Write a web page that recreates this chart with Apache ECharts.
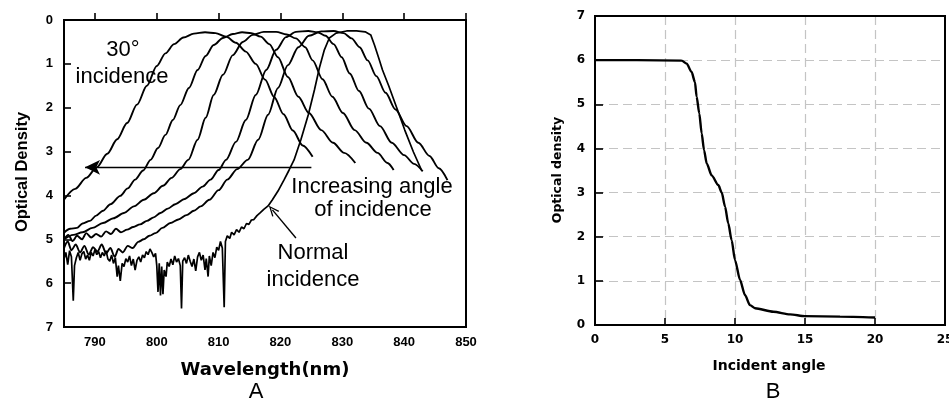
<!DOCTYPE html>
<html>
<head>
<meta charset="utf-8">
<script src="https://cdn.jsdelivr.net/npm/echarts@6/dist/echarts.min.js"></script>
<style>
  html, body { margin: 0; padding: 0; background: #ffffff; }
  #chart { width: 949px; height: 401px; }
</style>
</head>
<body>
<div id="chart"></div>
<script>
// ---- Panel A: optical density spectra, one curve per angle of incidence ----
const wavelengthTicks = [790, 800, 810, 820, 830, 840, 850];

// [wavelength (nm), optical density]
const spectrum30deg = [
  [785.0,4.10],[786.8,3.85],[788.6,3.60],[790.3,3.36],[792.0,3.05],[793.6,2.72],[795.2,2.35],
  [796.8,1.93],[798.4,1.50],[800.0,1.05],[801.4,0.76],[802.8,0.55],[804.3,0.40],[806.0,0.31],
  [807.8,0.28],[809.5,0.30],[811.2,0.38],[812.8,0.52],[814.4,0.72],[816.0,1.00],[817.5,1.36],
  [819.0,1.76],[820.5,2.15],[822.0,2.52],[823.6,2.86],[825.2,3.12]
];
const spectrumB = [
  [785.0,4.85],[786.0,4.76],[787.1,4.74],[788.0,4.64],[789.2,4.58],[790.2,4.46],[791.3,4.35],
  [792.5,4.20],[794.1,4.01],[795.3,3.84],[796.5,3.64],[797.8,3.43],[799.0,3.19],[800.2,2.92],
  [801.4,2.62],[802.6,2.28],[803.8,1.94],[805.2,1.55],[806.6,1.14],[807.9,0.82],[809.2,0.57],
  [810.7,0.41],[812.3,0.32],[813.8,0.28],[815.3,0.30],[816.8,0.38],[818.2,0.55],[819.6,0.85],
  [821.2,1.30],[822.9,1.75],[824.6,2.12],[826.6,2.51],[828.5,2.80],[830.3,3.03],[832.1,3.26]
];
const spectrumC = [
  [785.0,5.00],[786.5,4.90],[788.0,4.84],[789.6,4.74],[791.3,4.63],[793.0,4.52],[794.7,4.40],
  [796.3,4.25],[797.9,4.10],[799.5,3.95],[801.0,3.78],[802.4,3.60],[803.8,3.40],[805.1,3.19],
  [806.6,2.73],[807.9,2.23],[809.2,1.71],[810.7,1.25],[812.3,0.80],[813.9,0.50],[815.5,0.34],
  [817.3,0.27],[819.3,0.27],[821.0,0.33],[822.5,0.42],[824.0,0.62],[825.2,0.92],[826.8,1.35],
  [828.4,1.75],[830.1,2.12],[832.0,2.51],[833.9,2.80],[835.7,3.03],[837.3,3.26],[838.3,3.42]
];
const spectrumD = [
  [785.0,5.00],[785.7,4.90],[786.4,5.04],[787.1,4.92],[787.9,5.00],[788.6,4.86],[789.4,4.96],
  [790.2,4.88],[791.0,4.94],[791.8,4.82],[792.6,4.88],[793.4,4.76],[794.2,4.84],[795.2,4.78],
  [796.2,4.72],[797.3,4.66],[798.4,4.58],[799.5,4.50],[800.6,4.40],[801.8,4.30],[803.0,4.20],
  [804.5,4.08],[806.0,3.95],[807.4,3.80],[808.7,3.64],[810.0,3.42],[811.2,3.19],[812.8,2.78],
  [814.4,2.28],[816.0,1.71],[817.7,1.14],[819.3,0.68],[820.9,0.39],[822.5,0.27],[824.5,0.25],
  [826.0,0.28],[827.3,0.36],[828.6,0.55],[829.9,0.85],[831.2,1.22],[832.7,1.62],[834.3,2.02],
  [836.1,2.42],[838.0,2.80],[840.0,3.08],[841.6,3.28],[843.0,3.45]
];
const spectrumE = [
  [785.0,5.20],[785.6,5.05],[786.2,5.25],[786.9,5.12],[787.6,5.30],[788.3,5.15],[789.0,5.35],
  [789.7,5.18],[790.4,5.28],[791.1,5.12],[791.8,5.32],[792.5,5.20],[793.2,5.40],[793.8,5.22],
  [794.5,5.30],[795.3,5.15],[796.1,5.20],[797.0,5.06],[797.9,5.00],[798.8,4.92],[799.8,4.86],
  [800.9,4.74],[802.2,4.63],[803.5,4.55],[804.8,4.45],[806.0,4.35],[807.1,4.25],[808.5,4.10],
  [810.0,3.88],[811.4,3.64],[813.0,3.40],[814.7,3.19],[816.4,2.73],[818.0,2.16],[819.6,1.55],
  [821.2,1.03],[822.9,0.62],[824.6,0.36],[826.6,0.26],[828.6,0.25],[830.2,0.30],[831.5,0.42],
  [832.8,0.62],[834.1,0.92],[835.5,1.28],[837.0,1.66],[838.6,2.04],[840.4,2.42],[842.3,2.80],
  [844.1,3.10],[845.6,3.38],[847.0,3.65]
];
const spectrumNormal = [
  [785.0,5.45],[785.3,5.30],[785.6,5.58],[785.9,5.26],[786.2,5.40],[786.5,6.40],[786.7,5.60],
  [787.0,5.42],[787.3,5.30],[787.6,5.48],[787.9,5.33],[788.2,5.28],[788.5,5.45],[788.8,5.36],
  [789.1,5.48],[789.4,5.30],[789.7,5.38],[790.0,5.24],[790.3,5.35],[790.6,5.28],[790.9,5.42],
  [791.2,5.30],[791.5,5.38],[791.8,5.26],[792.1,5.45],[792.4,5.50],[792.7,5.36],[793.0,5.55],
  [793.3,5.42],[793.6,5.85],[793.8,5.60],[794.1,5.95],[794.4,5.55],[794.7,5.62],[795.0,5.44],
  [795.3,5.52],[795.6,5.38],[795.9,5.60],[796.2,5.45],[796.5,5.70],[796.8,5.48],[797.1,5.40],
  [797.4,5.52],[797.7,5.36],[798.0,5.42],[798.3,5.28],[798.6,5.35],[798.9,5.22],[799.2,5.30],
  [799.5,5.40],[799.8,5.32],[800.0,5.60],[800.2,6.20],[800.4,5.55],[800.6,6.28],[800.8,5.62],
  [801.0,6.25],[801.2,5.70],[801.5,5.85],[801.7,5.52],[802.0,5.62],[802.3,5.45],[802.6,5.58],
  [802.9,5.38],[803.2,5.52],[803.5,5.44],[803.8,5.60],[804.0,6.58],[804.2,5.50],[804.5,5.42],
  [804.8,5.55],[805.1,5.36],[805.4,5.50],[805.7,5.62],[806.0,5.45],[806.3,5.72],[806.6,5.40],
  [806.9,5.30],[807.2,5.48],[807.5,5.36],[807.8,5.70],[808.0,5.44],[808.3,5.85],[808.5,5.38],
  [808.8,5.60],[809.1,5.30],[809.4,5.42],[809.7,5.18],[810.0,5.25],[810.3,5.05],[810.6,5.20],
  [810.9,6.55],[811.1,5.05],[811.4,4.92],[811.8,4.98],[812.1,4.84],[812.5,4.90],[812.9,4.78],
  [813.3,4.84],[813.7,4.72],[814.1,4.76],[814.5,4.64],[814.9,4.66],[815.3,4.56],[815.7,4.55],
  [816.2,4.46],[816.7,4.40],[817.3,4.32],[818.0,4.24],[818.7,4.10],[819.6,3.90],[820.6,3.64],
  [821.4,3.42],[822.2,3.19],[823.3,2.73],[824.5,2.16],[825.5,1.59],[826.3,1.09],[827.1,0.68],
  [827.9,0.41],[829.0,0.30],[830.7,0.25],[832.3,0.25],[833.7,0.27],[834.6,0.34],[835.2,0.57],
  [835.9,0.87],[836.5,1.14],[837.5,1.50],[838.8,2.00],[840.1,2.51],[841.5,3.01],[842.8,3.42]
];

// Annotation arrows, in data units [wavelength, optical density]
const angleShiftArrow = [[825.0, 3.36], [788.4, 3.36]];
const normalPointer = [[822.5, 4.97], [818.7, 4.33]];

// ---- Panel B: optical density against incident angle ----
const angleTicks = [0, 5, 10, 15, 20, 25];
const incidentAngle = [0, 3, 6.19, 6.55, 6.9, 7.14, 7.26, 7.45, 7.62, 7.79, 7.98, 8.33, 8.81, 9.05,
  9.29, 9.52, 9.76, 10.0, 10.36, 10.71, 11.07, 11.43, 12.74, 13.93, 15.0, 17.5, 20.0];
const angleDensity = [6.0, 6.0, 5.99, 5.92, 5.73, 5.50, 5.17, 4.79, 4.34, 3.96, 3.66, 3.39, 3.17, 3.0,
  2.68, 2.30, 1.92, 1.47, 1.02, 0.68, 0.45, 0.38, 0.30, 0.24, 0.20, 0.19, 0.17];

const SANS = "'Liberation Sans', Arial, sans-serif";
const WIDE = "'DejaVu Sans', sans-serif";

const spectra = [spectrum30deg, spectrumB, spectrumC, spectrumD, spectrumE];

const lineSeries = spectra.map(function (pts) {
  return {
    type: 'line', xAxisIndex: 0, yAxisIndex: 0, data: pts,
    showSymbol: false, smooth: 0.3, smoothMonotone: 'x',
    lineStyle: { color: '#000', width: 1.9 }, silent: true
  };
});
lineSeries.push({
  type: 'line', xAxisIndex: 0, yAxisIndex: 0, data: spectrumNormal,
  showSymbol: false, smooth: false,
  lineStyle: { color: '#000', width: 1.7 }, silent: true,
  markLine: {
    silent: true, animation: false,
    label: { show: false },
    data: [
      [{ coord: angleShiftArrow[0], symbol: 'none' },
       { coord: angleShiftArrow[1], symbol: 'arrow', symbolSize: [11, 15] }],
      [{ coord: normalPointer[0], symbol: 'none' },
       { coord: normalPointer[1], symbol: 'path://M0,12 L5,0 L10,12 L8.6,12.6 L5,3.6 L1.4,12.6 Z', symbolSize: [9, 11] }]
    ],
    lineStyle: { color: '#000', width: 1.4, type: 'solid' }
  }
});
lineSeries.push({
  type: 'line', xAxisIndex: 1, yAxisIndex: 1,
  data: incidentAngle.map(function (a, i) { return [a, angleDensity[i]]; }),
  showSymbol: false, smooth: 0.25, smoothMonotone: 'x',
  lineStyle: { color: '#000', width: 2.4 }, silent: true
});

const tickLabelA = { color: '#000', fontFamily: SANS, fontWeight: 'bold', fontSize: 13 };
const tickLabelB = { color: '#000', fontFamily: WIDE, fontWeight: 'bold', fontSize: 12 };
const dashedGrid = { show: true, showMinLine: false, showMaxLine: false,
                     lineStyle: { color: '#c4c4c4', width: 1.2, type: [9, 5] } };

function annot(text, x, y, size, family, weight, rot) {
  return {
    type: 'text', x: x, y: y, rotation: rot || 0, silent: true,
    style: { text: text, fill: '#000', fontSize: size, fontFamily: family,
             fontWeight: weight || 'normal', align: 'center', verticalAlign: 'middle' }
  };
}

const option = {
  animation: false,
  backgroundColor: '#fff',
  grid: [
    { left: 64, top: 20, width: 402, height: 307, show: true, borderColor: '#000', borderWidth: 2,
      outerBoundsMode: 'none' },
    { left: 595, top: 16, width: 350, height: 309, show: true, borderColor: '#000', borderWidth: 2,
      outerBoundsMode: 'none' }
  ],
  xAxis: [
    { type: 'value', gridIndex: 0, min: 785, max: 850,
      axisLine: { show: true, lineStyle: { color: '#000', width: 2 } },
      axisTick: { show: true, inside: true, length: 7, customValues: wavelengthTicks,
                  lineStyle: { color: '#000', width: 1.6 } },
      axisLabel: { show: true, margin: 9, customValues: wavelengthTicks, ...tickLabelA },
      splitLine: { show: false } },
    { type: 'value', gridIndex: 1, min: 0, max: 25, interval: 5,
      axisLine: { show: true, lineStyle: { color: '#000', width: 2 } },
      axisTick: { show: true, inside: true, length: 7, lineStyle: { color: '#000', width: 1.6 } },
      axisLabel: { margin: 9, ...tickLabelB },
      splitLine: dashedGrid }
  ],
  yAxis: [
    { type: 'value', gridIndex: 0, min: 0, max: 7, interval: 1, inverse: true,
      axisLine: { show: true, lineStyle: { color: '#000', width: 2 } },
      axisTick: { show: true, inside: true, length: 7, lineStyle: { color: '#000', width: 1.6 } },
      axisLabel: { margin: 11, ...tickLabelA },
      splitLine: { show: false } },
    { type: 'value', gridIndex: 1, min: 0, max: 7, interval: 1,
      axisLine: { show: true, lineStyle: { color: '#000', width: 2 } },
      axisTick: { show: true, inside: true, length: 8, lineStyle: { color: '#000', width: 1.6 } },
      axisLabel: { margin: 10, ...tickLabelB },
      splitLine: dashedGrid }
  ],
  series: lineSeries,
  graphic: [
    annot('30°', 123, 50, 22, SANS),
    annot('incidence', 122, 77, 22, SANS),
    annot('Increasing angle', 372, 187, 22, SANS),
    annot('of incidence', 373, 210, 22, SANS),
    annot('Normal', 313, 253, 22, SANS),
    annot('incidence', 313, 280, 22, SANS),
    annot('Wavelength(nm)', 265, 370, 18, WIDE, 'bold'),
    annot('Optical Density', 22, 172, 16.5, SANS, 'bold', Math.PI / 2),
    annot('A', 256, 392, 22, SANS),
    annot('Incident angle', 769, 366, 14, WIDE, 'bold'),
    annot('Optical density', 558, 170, 12.5, WIDE, 'bold', Math.PI / 2),
    annot('B', 773, 392, 22, SANS),
    // closing frame of panel B drawn above the dashed grid
    { type: 'rect', silent: true, z: 100,
      shape: { x: 595, y: 16, width: 350, height: 309 },
      style: { fill: 'none', stroke: '#000', lineWidth: 2 } }
  ]
};

const chart = echarts.init(document.getElementById('chart'), null, { renderer: 'canvas' });
chart.setOption(option);
</script>
</body>
</html>
